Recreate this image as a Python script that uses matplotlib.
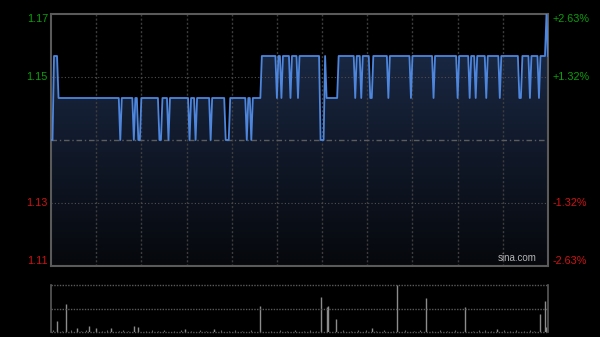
import numpy as np
import matplotlib
matplotlib.use("Agg")
import matplotlib.pyplot as plt
from matplotlib.colors import LinearSegmentedColormap
from matplotlib.patches import Polygon

plt.rcParams['font.family'] = ['Liberation Sans', 'DejaVu Sans']

# price runs: level held for count minutes (HK session, 331 minute points)
run_levels = [1.14, 1.16, 1.15, 1.14, 1.15, 1.14, 1.15, 1.14, 1.15, 1.14,
              1.15, 1.14, 1.15, 1.14, 1.15, 1.14, 1.15, 1.14, 1.15, 1.14,
              1.15, 1.14, 1.15, 1.14, 1.15, 1.16, 1.15, 1.16, 1.15, 1.16,
              1.15, 1.16, 1.15, 1.16, 1.14, 1.16, 1.15, 1.16, 1.15, 1.16,
              1.15, 1.16, 1.15, 1.16, 1.15, 1.16, 1.15, 1.16, 1.15, 1.16,
              1.15, 1.16, 1.15, 1.16, 1.15, 1.16, 1.15, 1.16, 1.15, 1.16,
              1.15, 1.16, 1.15, 1.16, 1.15, 1.16, 1.17, 1.16]
run_counts = [2, 3, 41, 1, 8, 1, 2, 2, 12, 2,
              4, 1, 13, 1, 3, 1, 9, 1, 9, 3,
              11, 1, 2, 1, 6, 10, 1, 2, 1, 5,
              1, 4, 1, 14, 3, 1, 8, 11, 1, 3,
              1, 5, 2, 10, 1, 14, 1, 14, 1, 15,
              1, 7, 1, 3, 1, 6, 1, 8, 1, 12,
              2, 5, 1, 5, 1, 4, 1, 1]

prev_close = 1.14
y_low, y_high = 1.11, 1.17
left_labels = ["1.17", "1.15", "1.13", "1.11"]
right_labels = ["+2.63%", "+1.32%", "-1.32%", "-2.63%"]
label_levels = [1.17, 1.155, 1.125, 1.11]

# volume bars (minute index, relative volume)
vol_minutes = [4, 10, 17, 25, 30, 40, 55, 58, 89, 108, 139, 179, 183, 184, 189,
               213, 230, 249, 275, 296, 325, 328, 329]
vol_values = [24, 60, 9, 13, 7, 9, 13, 11, 5, 5, 55, 75, 53, 55, 27,
              7, 100, 72, 54, 5, 38, 67, 11]
small_minutes = [1, 7, 13, 20, 23, 34, 37, 45, 48, 51, 63, 67, 71, 75, 82, 86, 93,
                 99, 103, 113, 118, 122, 127, 133, 146, 152, 157, 162, 168, 172,
                 176, 194, 199, 204, 209, 216, 221, 227, 235, 241, 245, 253, 258,
                 263, 268, 280, 284, 288, 292, 301, 305, 309, 314, 318, 321]
small_values = [3, 2, 3, 2, 3, 2, 3, 2, 3, 2, 2, 3, 2, 3, 2, 3, 2,
                3, 2, 3, 2, 3, 2, 3, 2, 3, 2, 3, 2, 3,
                2, 3, 2, 3, 4, 2, 3, 2, 3, 2, 3, 2, 3,
                2, 3, 2, 3, 4, 2, 3, 2, 3, 2, 3, 2]

prices = np.repeat(run_levels, run_counts)
minutes = np.arange(len(prices))
n_max = 330

fig = plt.figure(figsize=(6, 3.37), dpi=100, facecolor="black")
ax = fig.add_axes([51 / 600, 1 - 266 / 337, 497 / 600, 252 / 337])
vax = fig.add_axes([51 / 600, 1 - 331.7 / 337, 497 / 600, 46.4 / 337])

for a in (ax, vax):
    a.set_facecolor("black")
    a.set_xticks([])
    a.set_yticks([])

ax.set_xlim(0, n_max)
ax.set_ylim(y_low, y_high)

# gradient fill under the price line
cmap = LinearSegmentedColormap.from_list("fill", ["#06080c", "#1d2d4c"])
grad = np.linspace(0, 1, 256).reshape(-1, 1)
img = ax.imshow(grad, cmap=cmap, origin="lower", aspect="auto",
                extent=[0, n_max, y_low, y_high], zorder=1)
verts = np.column_stack([np.r_[minutes[0], minutes, minutes[-1]],
                         np.r_[y_low, prices, y_low]])
poly = Polygon(verts, closed=True, facecolor="none", edgecolor="none")
ax.add_patch(poly)
img.set_clip_path(poly)

# grid
for t in range(30, n_max, 30):
    ax.axvline(t, color="#3d3d3d", lw=1, ls=(0, (1.5, 1.5)), zorder=2)
for lv in (1.155, 1.125):
    ax.axhline(lv, color="#505050", lw=0.8, ls=(0, (1, 2)), zorder=2)
ax.axhline(prev_close, color="#5c5c5c", lw=1, ls=(0, (4, 2, 1, 2)), zorder=2)

ax.plot(minutes, prices, color="#4d86dc", lw=1.3, zorder=4)

for sp in ax.spines.values():
    sp.set_color("#5a5a5a")
    sp.set_linewidth(1.5)

# axis labels
green, red = "#0aa00a", "#d01212"
vas = ["top", "center", "center", "bottom"]
for txt_l, txt_r, lv, va in zip(left_labels, right_labels, label_levels, vas):
    col = green if lv > prev_close else red
    ax.text(-0.006, lv, txt_l, transform=ax.get_yaxis_transform(), ha="right",
            va=va, color=col, fontsize=7.8)
    ax.text(1.01, lv, txt_r, transform=ax.get_yaxis_transform(), ha="left",
            va=va, color=col, fontsize=7.8)

ax.text(0.978, 0.012, "sina.com", transform=ax.transAxes, ha="right", va="bottom",
        color="#b4b4b4", fontsize=7)

# volume panel
vmax = max(vol_values)
vax.set_xlim(0, n_max)
vax.set_ylim(0, vmax)
vax.vlines(small_minutes, 0, small_values, color="#6a6a6a", lw=0.8)
vax.vlines(vol_minutes, 0, vol_values, color="#8c8c8c", lw=1)
for lv in (vmax, vmax / 2, 0):
    vax.axhline(lv, color="#5a5a5a", lw=1, ls=(0, (1, 1)), clip_on=False)
for side in ("top", "bottom"):
    vax.spines[side].set_visible(False)
for side in ("left", "right"):
    vax.spines[side].set_color("#5a5a5a")
    vax.spines[side].set_linewidth(1.2)

fig.savefig("out.png", dpi=100, facecolor="black")
